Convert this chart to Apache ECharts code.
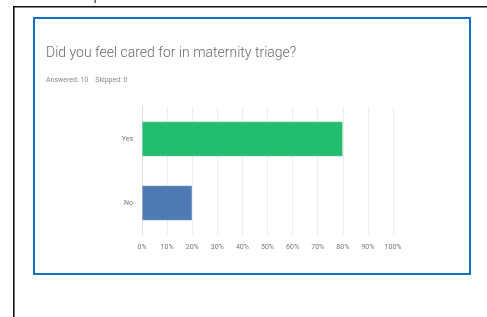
<!DOCTYPE html>
<html><head><meta charset="utf-8">
<script src="https://cdn.jsdelivr.net/npm/echarts@6/dist/echarts.min.js"></script>
<style>html,body{margin:0;padding:0;background:#fff}#c{width:487px;height:317px}</style>
</head><body><div id="c"></div>
<script>
const categories = ['Yes', 'No'];
const values = [80, 20];
const barColors = ['#22bd6e', '#4f79b2'];
const titleText = 'Did you feel cared for in maternity triage?';
const subText = 'Answered: 10    Skipped: 0';

const chart = echarts.init(document.getElementById('c'));
chart.setOption({
  animation: false,
  backgroundColor: '#fff',
  title: {
    text: titleText,
    subtext: subText,
    left: 46, top: 46, padding: 0,
    itemGap: 17,
    textStyle: {fontFamily: 'Roboto', fontWeight: 300, fontSize: 14, color: '#6b6b6b'},
    subtextStyle: {fontFamily: 'Roboto', fontSize: 7, color: '#8a8a8a'}
  },
  grid: {left: 142, right: 94, top: 107, bottom: 82},
  xAxis: {
    type: 'value', min: 0, max: 100, interval: 10,
    axisLabel: {formatter: '{value}%', fontFamily: 'Roboto', fontSize: 7, color: '#777', margin: 9},
    axisLine: {show: false}, axisTick: {show: false},
    splitLine: {lineStyle: {color: '#ececec', width: 1}}
  },
  yAxis: {
    type: 'category', data: categories, inverse: true,
    axisLabel: {fontFamily: 'Roboto', fontSize: 7, color: '#777', margin: 9},
    axisLine: {lineStyle: {color: '#dcdcdc'}}, axisTick: {show: false}
  },
  series: [{
    type: 'bar', barWidth: 35,
    data: values.map((v, i) => ({value: v, itemStyle: {color: barColors[i]}})),
    itemStyle: {borderColor: 'rgba(255,255,255,0.6)', borderWidth: 0.5}
  }],
  graphic: [
    {type: 'rect', shape: {x: 13, y: 6, width: 474, height: 1.6}, style: {fill: '#111'}},
    {type: 'rect', shape: {x: 13, y: 6, width: 1.6, height: 311}, style: {fill: '#111'}},
    {type: 'rect', shape: {x: 94.5, y: 0, width: 1.2, height: 3}, style: {fill: '#333'}},
    {type: 'rect', shape: {x: 34, y: 18, width: 436, height: 256}, style: {fill: 'none', stroke: '#1470c4', lineWidth: 2}}
  ]
});
</script></body></html>
